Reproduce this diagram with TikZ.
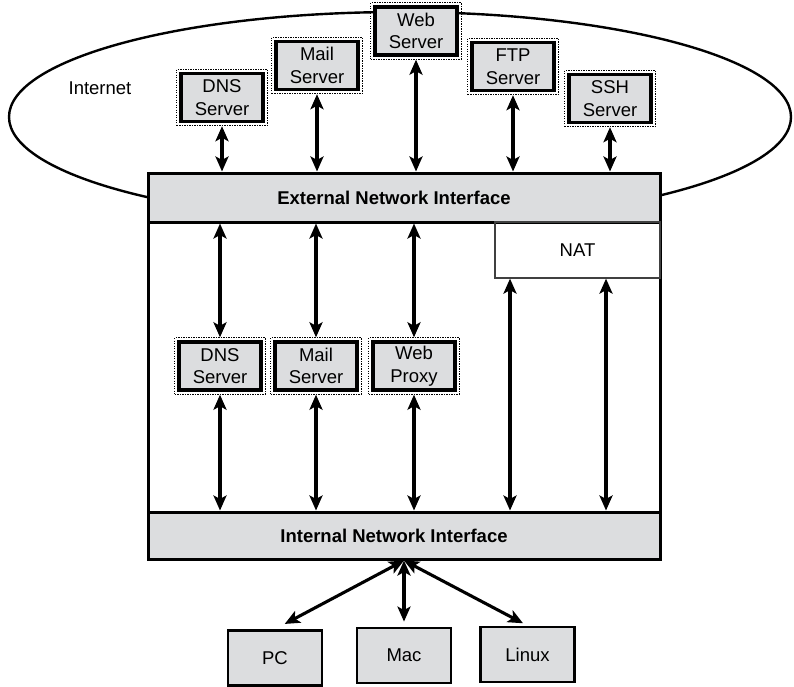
\documentclass[tikz,border=0pt]{standalone}
\usepackage{fontspec}
\setmainfont{Liberation Sans}
\usetikzlibrary{arrows.meta,fit}

\definecolor{boxgray}{RGB}{220,221,223}
\tikzset{
  lbl/.style={font=\fontsize{18.5}{22.5}\selectfont},
  srv/.style={lbl,draw,line width=3.4pt,fill=boxgray,minimum width=82pt,minimum height=48pt,inner sep=0pt,align=center},
  dotbox/.style={draw,line width=1pt,dash pattern=on 1.2pt off 1.3pt,inner sep=2.5pt},
  iface/.style={draw,line width=3pt,fill=boxgray,minimum width=512pt,inner sep=0pt,font=\bfseries\fontsize{18.5}{22}\selectfont},
  host/.style={lbl,draw,line width=2.8pt,fill=boxgray,minimum width=94pt,minimum height=55pt},
  biarr/.style={arrows={Stealth[length=15pt,width=13pt,inset=3.5pt]-Stealth[length=15pt,width=13pt,inset=3.5pt]},line width=3.1pt}
}

\begin{document}
\begin{tikzpicture}[x=1pt,y=-1pt]
        \useasboundingbox (0,0) rectangle (794,686);
        % the Internet and the firewall box
        \draw[line width=2.4pt] (400,117) ellipse [x radius=391pt, y radius=105pt];
        \node[lbl] (inet) at (100,88) {Internet};
        \filldraw[fill=white,line width=3pt] (148,173) rectangle (660,559);
        \node[iface,minimum height=49pt] (ext) at (404,197.5) {\hspace*{-20pt}External Network Interface};
        \node[iface,minimum height=47pt] (int) at (404,535.5) {\hspace*{-20pt}Internal Network Interface};
        \node[lbl,draw=black!75,line width=1.2pt,minimum width=165pt,minimum height=56pt] (nat) at (577.5,250) {NAT};

        % servers
        \foreach \n/\x/\y/\t in {dnsT/222/97.5/DNS\\Server,mailT/317/65.5/Mail\\Server,
            webT/416/31/Web\\Server,ftpT/513/66.5/FTP\\Server,sshT/610/98.5/SSH\\Server,
            dnsM/220/366/DNS\\Server,mailM/316/366/Mail\\Server,webM/414/366/Web\\Proxy} {
            \node[srv] (\n) at (\x,\y) {\t};
            \node[dotbox,fit=(\n)] (\n-f) {};
          }

        \foreach \n in {dnsT,mailT,webT,ftpT,sshT} {
            \draw[biarr] (\n-f.south) -- (ext.north -| \n-f.south);
          }
        \foreach \n in {dnsM,mailM,webM} {
            \draw[biarr] (ext.south -| \n-f.north) -- (\n-f.north);
            \draw[biarr] (\n-f.south) -- (int.north -| \n-f.south);
          }
        \coordinate (nat1) at (510,0);
        \coordinate (nat2) at (606,0);
        \foreach \c in {nat1,nat2} {
            \draw[biarr] (nat.south -| \c) -- (int.north -| \c);
          }

        % hosts
        \node[host] (pc) at (275,658) {PC};
        \node[host] (mac) at (404,655.5) {Mac};
        \node[host] (linux) at (527.5,654.5) {Linux};
        \draw[biarr,shorten >=11pt] (int.south) -- (pc.north);
        \draw[biarr,shorten >=5pt] (int.south) -- (mac.north);
        \draw[biarr,shorten >=5pt] (int.south) -- (linux.north);
      \end{tikzpicture}
\end{document}
